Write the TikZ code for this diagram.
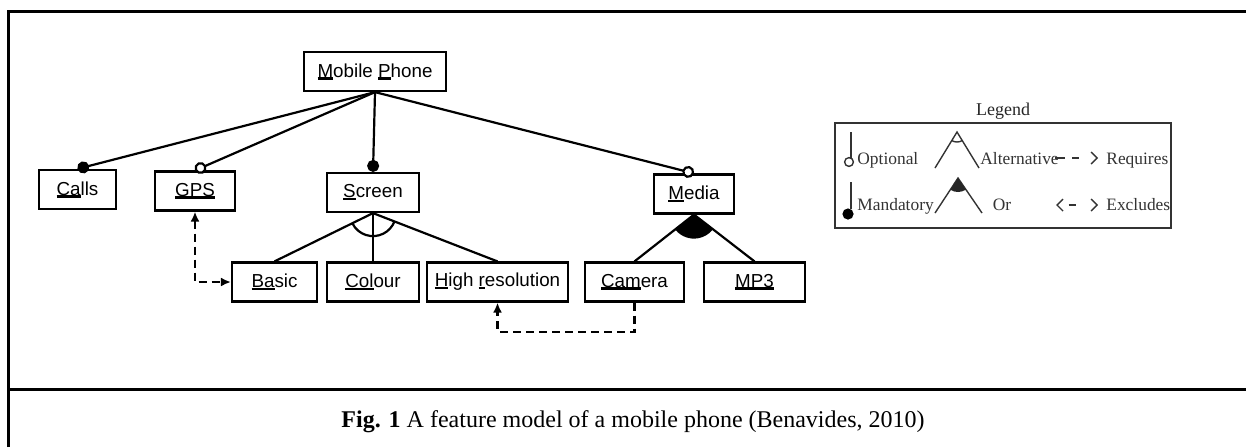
\documentclass[tikz,border=0pt]{standalone}
\usepackage{fontspec}
\setmainfont{Liberation Serif}
\newfontfamily\featfont{Liberation Sans}
\usetikzlibrary{arrows.meta,positioning}
\newcommand{\ukey}[1]{\setbox0\hbox{#1}\rlap{\rule[-1.2pt]{\wd0}{1.2pt}}\box0}
\tikzset{
  feat/.style={draw,line width=1.1pt,minimum height=19.5pt,inner sep=2pt,
               font=\featfont\fontsize{9.4}{11}\selectfont},
  link/.style={line width=1.1pt},
  mand/.style={link,-{Circle[length=6pt]}},
  opt/.style={link,-{Circle[open,length=6pt,fill=white]}},
  dep/.style={line width=1.1pt,dash pattern=on 4pt off 2.5pt},
  requires/.style={dep,-{Latex[length=5pt,width=4.5pt]}},
  excludes/.style={dep,{Latex[length=5pt,width=4.5pt]}-{Latex[length=5pt,width=4.5pt]}},
  frame/.style={line width=1.5pt},
  legtext/.style={font=\fontsize{8.7}{10}\selectfont,text=black!80,inner sep=0pt},
  legline/.style={line width=0.7pt,draw=black!80},
  barb/.style={-{Straight Barb[length=3pt,width=6pt]}},
  dbarb/.style={{Straight Barb[length=3pt,width=6pt]}-{Straight Barb[length=3pt,width=6pt]}}
}
\begin{document}
\begin{tikzpicture}[x=0.5pt,y=-0.5pt]
  \useasboundingbox (0,0) rectangle (1246,447);
  % figure frame
  \draw[frame] (8,447) -- (8,11) -- (1246,11);
  \draw[frame] (8,389) -- (1246,389);
  % features
  \node[feat,minimum width=71pt] (phone) at (375,71.5) {\ukey{M}obile \ukey{P}hone};
  \node[feat,minimum width=38.5pt] (calls) at (77.5,189.5) {\ukey{Ca}lls};
  \node[feat,minimum width=40pt] (gps) at (195,191) {\ukey{GPS}};
  \node[feat,minimum width=46pt] (screen) at (373,192.5) {\ukey{S}creen};
  \node[feat,minimum width=40pt] (media) at (694,194) {\ukey{M}edia};
  \node[feat,minimum width=42.5pt] (basic) at (274.5,282) {\ukey{Ba}sic};
  \node[feat,minimum width=46pt] (colour) at (373,282) {\ukey{Col}our};
  \node[feat,minimum width=70.5pt] (hires) at (497.5,282) {\ukey{H}igh \ukey{r}esolution};
  \node[feat,minimum width=49.5pt] (camera) at (634.5,282) {\ukey{Cam}era};
  \node[feat,minimum width=50.5pt] (mp3) at (754.5,282) {\ukey{MP3}};
  % tree
  \draw[mand] (phone.south) -- (calls.north);
  \draw[opt] (phone.south) -- (gps.north);
  \draw[mand] (phone.south) -- (screen.north);
  \draw[opt] (phone.south) -- (media.north);
  \draw[link] (screen.south) -- (basic.north);
  \draw[link] (screen.south) -- (colour.north);
  \draw[link] (screen.south) -- (hires.north);
  \draw[link] (screen.south) ++(-153:11.5pt) arc[start angle=-153,end angle=-22,radius=11.5pt];
  \draw[link] (media.south) -- (camera.north);
  \draw[link] (media.south) -- (mp3.north);
  \fill (media.south) -- ++(-140.5:12pt) arc[start angle=-140.5,end angle=-39,radius=12pt] -- cycle;
  % cross-tree constraints
  \draw[excludes] (gps.south) |- (basic.west);
  \draw[requires] (camera.south) -- ++(0,29) -| (hires.south);
  % legend
  \node[draw=black!80,line width=1.1pt,minimum width=168pt,minimum height=52.5pt,inner sep=0pt,
        label={[legtext,text=black!85,font=\fontsize{9}{10}\selectfont,label distance=1pt]above:Legend}] (legend) at (1003,175.5) {};
  \draw[legline] (851,132) -- (851,158);
  \draw[legline] (849,162) circle[radius=2.2pt];
  \node[legtext,anchor=base west] (lopt) at (857,164) {Optional};
  \draw[legline] (851,182) -- (851,209);
  \fill[black] (848,214) circle[radius=2.8pt];
  \node[legtext,anchor=base west] (lmand) at (857,210) {Mandatory};
  \draw[legline] (935,168) -- (957,132) -- (979,168);
  \draw[legline] (957,132) ++(-121:5pt) arc[start angle=-121,end angle=-59,radius=5pt];
  \node[legtext,anchor=base west] (lalt) at (980,164) {Alternative};
  \draw[legline] (935,213) -- (958,178) -- (982,213);
  \fill[black!85] (958,178) -- ++(-123:7pt) arc[start angle=-123,end angle=-56,radius=7pt] -- cycle;
  \node[legtext,anchor=base] (lor) at (1002,210) {Or};
  \draw[legline,barb,dash pattern=on 5pt off 3.5pt on 3.5pt off 10pt] (1055,158) -- (1098,158);
  \node[legtext,anchor=base west] (lreq) at (1106,164) {Requires};
  \draw[legline,dbarb,dash pattern=on 0pt off 5.5pt on 3.5pt off 10pt] (1056,205) -- (1098,205);
  \node[legtext,anchor=base west] (lexc) at (1106,210) {Excludes};
  % caption
  \node[font=\fontsize{12}{14}\selectfont] (caption) at (633,422)
    {\textbf{Fig. 1} A feature model of a mobile phone (Benavides, 2010)};
\end{tikzpicture}
\end{document}
